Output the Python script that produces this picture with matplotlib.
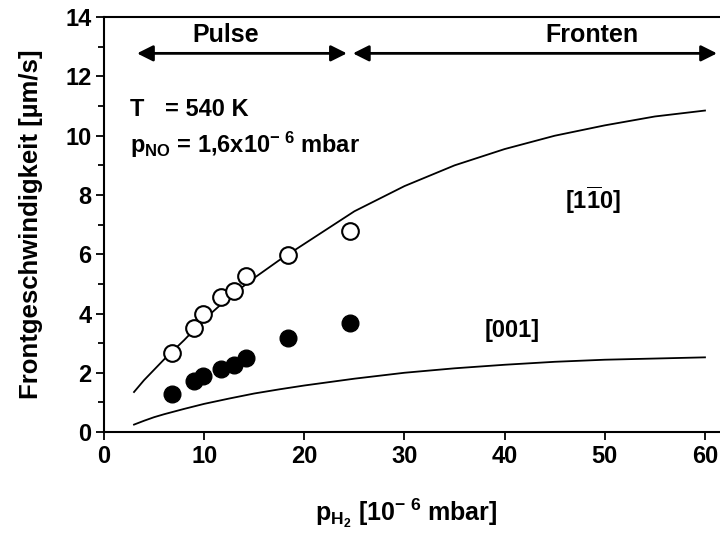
import matplotlib.pyplot as plt

plt.rcParams['font.family'] = ['Liberation Sans', 'DejaVu Sans']
plt.rcParams['font.weight'] = 'bold'
plt.rcParams['axes.labelweight'] = 'bold'
plt.rcParams['mathtext.fontset'] = 'custom'
plt.rcParams['mathtext.rm'] = 'Liberation Sans:bold'
plt.rcParams['mathtext.it'] = 'Liberation Sans:bold'
plt.rcParams['mathtext.bf'] = 'Liberation Sans:bold'

# measured points
p_h2 = [6.8, 9.0, 9.9, 11.7, 13.0, 14.2, 18.4, 24.6]
v_110 = [2.66, 3.50, 3.98, 4.57, 4.77, 5.27, 5.97, 6.78]
v_001 = [1.27, 1.71, 1.88, 2.11, 2.27, 2.50, 3.16, 3.67]

# model curves
x_curve = [3, 4, 5, 6, 8, 10, 12.5, 15, 17.5, 20, 25, 30, 35, 40, 45, 50, 55, 60]
y_110_curve = [1.35, 1.75, 2.1, 2.45, 3.1, 3.8, 4.55, 5.2, 5.8, 6.35, 7.45, 8.3, 9.0, 9.55, 10.0, 10.35, 10.65, 10.85]
y_001_curve = [0.25, 0.38, 0.5, 0.6, 0.78, 0.95, 1.13, 1.3, 1.44, 1.57, 1.8, 2.0, 2.15, 2.27, 2.37, 2.44, 2.48, 2.52]

fig = plt.figure(figsize=(7.2, 5.38), dpi=100)
ax = fig.add_axes([0.1444, 0.197, 0.857, 0.771])

ax.plot(x_curve, y_110_curve, color='black', lw=1.3)
ax.plot(x_curve, y_001_curve, color='black', lw=1.3)
ax.plot(p_h2, v_110, 'o', ms=12, mfc='white', mec='black', mew=1.5)
ax.plot(p_h2, v_001, 'o', ms=12, mfc='black', mec='black')

ax.set_xlim(0, 61.6)
ax.set_ylim(0, 14)
ax.set_xticks(range(0, 61, 10))
ax.set_yticks(range(0, 15, 2))
ax.set_yticks(range(1, 14, 2), minor=True)
ax.tick_params(which='both', direction='out', width=1.3, labelsize=17, pad=3)
ax.tick_params(which='major', length=6)
ax.tick_params(which='minor', length=4)
for s in ax.spines.values():
    s.set_linewidth(1.5)

ax.set_xlabel(r'$\mathregular{p_{H_2}}$ [10$^{\mathregular{-\ 6}}$ mbar]', fontsize=18)
ax.xaxis.set_label_coords(0.49, -0.155)
ax.set_ylabel(u'Frontgeschwindigkeit [\u00b5m/s]', fontsize=18.5, labelpad=16)

arrow = dict(arrowstyle='<|-|>', color='black', lw=2, mutation_scale=24, shrinkA=0, shrinkB=0)
ax.annotate('', xy=(3.3, 12.78), xytext=(24.25, 12.78), arrowprops=arrow)
ax.annotate('', xy=(24.85, 12.78), xytext=(61.2, 12.78), arrowprops=arrow)
ax.text(12.15, 13.4, 'Pulse', ha='center', va='center', fontsize=18)
ax.text(48.7, 13.4, 'Fronten', ha='center', va='center', fontsize=18)

ax.text(2.6, 10.66, 'T', ha='left', va='baseline', fontsize=17)
ax.text(6.1, 10.66, '= 540 K', ha='left', va='baseline', fontsize=17)
ax.text(2.6, 9.41, r'$\mathregular{p_{NO}}$ = 1,6x10$^{\mathregular{-\ 6}}$ mbar', ha='left', va='baseline', fontsize=17)

ax.text(48.8, 7.83, r'$\mathregular{[1\overline{1}0]}$', ha='center', va='center', fontsize=17)
ax.text(40.8, 3.44, '[001]', ha='center', va='center', fontsize=17)

fig.savefig('out.png', dpi=100)
